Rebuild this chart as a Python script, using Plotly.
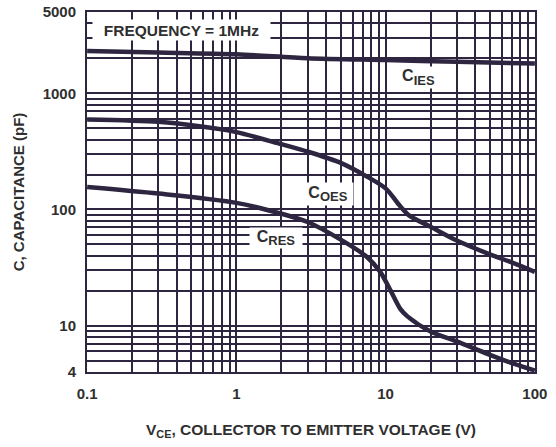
import math
import plotly.graph_objects as go

# ---- data ----
v_ies = [0.1, 0.3, 1, 3, 10, 30, 100]
c_ies = [2320, 2250, 2170, 2010, 1935, 1870, 1805]

v_oes = [0.1, 0.3, 0.6, 1, 2, 3, 5, 7.5, 10, 12.5, 14.5, 20, 30, 50, 70, 100]
c_oes = [596, 569, 515, 464, 365, 315, 252, 192, 152, 107, 88, 71, 54, 41, 35, 29]

v_res = [0.1, 0.3, 1, 2, 3, 5, 7.5, 9.2, 10.8, 12.5, 14, 20, 30, 50, 72, 100]
c_res = [156, 137, 114, 92, 78, 55, 39, 29, 20, 14, 12, 8.9, 7.3, 5.6, 4.7, 4.1]

x_grid = [m * 10 ** e for e in (-1, 0, 1) for m in range(1, 10)] + [100]
x_labels = {0.1: "0.1", 1: "1", 10: "10", 100: "100"}
y_grid = [4, 5, 6, 7, 8, 9] + [m * 10 ** e for e in (1, 2) for m in range(1, 10)] + [1000, 2000, 3000, 4000, 5000]
y_labels = {4: "4", 10: "10", 100: "100", 1000: "1000", 5000: "5000"}

INK = "#2e2540"
TXT = "#2f2f2f"
FONT = "Liberation Sans"

def label(v, d):
    for k, s in d.items():
        if abs(v - k) < 1e-9 * max(1, k):
            return s
    return ""

fig = go.Figure()
for xs, ys in ((v_ies, c_ies), (v_oes, c_oes), (v_res, c_res)):
    fig.add_trace(go.Scatter(x=xs, y=ys, mode="lines",
                             line=dict(color=INK, width=4.5, shape="spline", smoothing=0.8),
                             hoverinfo="skip", showlegend=False))

axis_common = dict(showgrid=True, gridcolor=INK, gridwidth=2, showline=True, linecolor=INK,
                   linewidth=2, mirror=True, ticks="", zeroline=False, ticklabeloverflow="allow",
                   tickfont=dict(family=FONT, size=15, color=TXT, weight="bold"))

fig.update_xaxes(type="log", range=[-1.001, 2.001], tickmode="array", tickvals=x_grid,
                 ticktext=[label(v, x_labels) for v in x_grid], ticklabelstandoff=7,
                 title=dict(text="V<sub>CE</sub>, COLLECTOR TO EMITTER VOLTAGE (V)",
                            font=dict(family=FONT, size=15.5, color=TXT, weight="bold"), standoff=23),
                 automargin=False, **axis_common)
fig.update_yaxes(type="log", range=[math.log10(4) - 0.002, math.log10(5000) + 0.002], tickmode="array",
                 tickvals=y_grid, ticktext=[label(v, y_labels) for v in y_grid], ticklabelstandoff=6,
                 title=dict(text="C, CAPACITANCE (pF)",
                            font=dict(family=FONT, size=15, color=TXT, weight="bold"), standoff=14),
                 automargin=False, **axis_common)

def box_label(text, x, y, w, h, size=15):
    fig.add_annotation(text=text, xref="paper", yref="paper", x=x, y=y, showarrow=False,
                       xanchor="center", yanchor="middle",
                       bgcolor="white", width=w, height=h, borderpad=0,
                       font=dict(family=FONT, size=size, color=TXT, weight="bold"))

def c_label(sub):
    return "C<sub><span style='font-size:13px'>" + sub + "</span></sub>"

box_label("FREQUENCY = 1MHz", 0.211, 0.95, 177, 20, size=15.5)
box_label(c_label("IES"), 0.739, 0.818, 43, 21, size=16)
box_label(c_label("OES"), 0.538, 0.494, 50, 22, size=16)
box_label(c_label("RES"), 0.422, 0.372, 52, 20, size=16)

fig.update_layout(width=556, height=447, margin=dict(l=87, r=21, t=12, b=75),
                  plot_bgcolor="white", paper_bgcolor="white")
# remove the default 8px page margin so the figure fills the 556x447 window exactly
fig.write_html("out.html", config={"displayModeBar": False},
               post_script="document.body.style.margin='0';")
